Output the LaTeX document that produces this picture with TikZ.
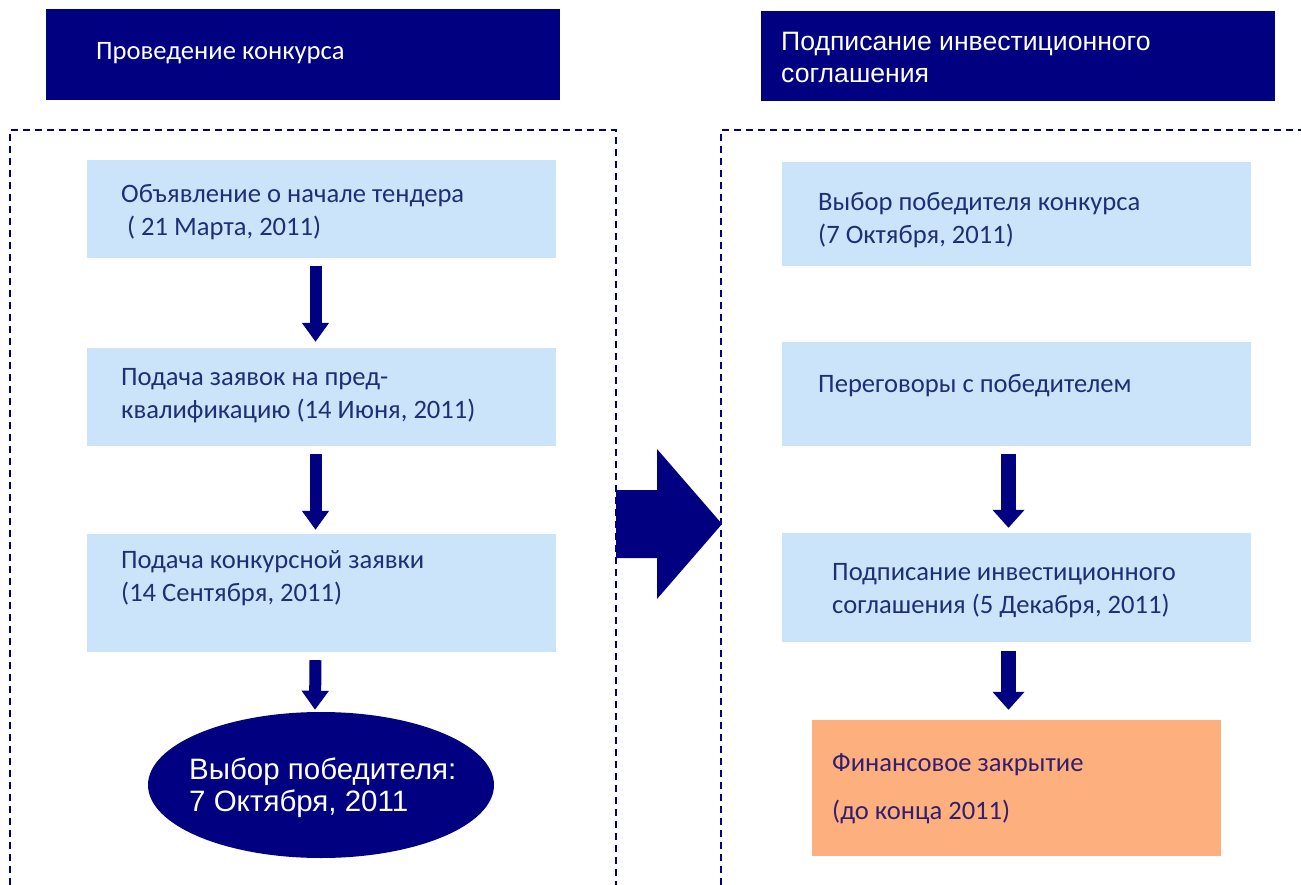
\documentclass[tikz,border=0pt]{standalone}
\usepackage{fontspec}
\setmainfont{Carlito}
\newfontfamily\arialf{Liberation Sans}
\usetikzlibrary{arrows.meta,shapes.geometric,calc}
\definecolor{navy}{RGB}{0,0,128}
\definecolor{lblue}{RGB}{204,228,250}
\definecolor{peach}{RGB}{253,176,126}
\definecolor{btext}{RGB}{28,48,118}
\definecolor{otext}{RGB}{52,30,110}
\tikzset{
  hdr/.style={fill=navy, draw=none, minimum width=514pt, inner sep=0pt},
  stepbox/.style={fill=lblue, draw=none, minimum width=469pt, inner sep=0pt},
  lbl/.style={anchor=west, align=left, inner sep=0pt, text=btext, font=\fontsize{26.6}{33}\selectfont},
  hlbl/.style={anchor=west, align=left, inner sep=0pt, text=white},
  frame/.style={draw=navy, line width=2pt, dash pattern=on 7pt off 5pt},
  larr/.style={draw=navy, line width=12pt, -{Triangle[width=26pt,length=19pt]}},
  rarr/.style={draw=navy, line width=15pt, -{Triangle[width=31pt,length=18pt]}},
}
\begin{document}
\begin{tikzpicture}[x=1pt,y=-1pt]
\useasboundingbox (0,0) rectangle (1301,885);
% headers
\node[hdr, minimum height=91pt] (h1) at (303,54.5) {};
\node[hlbl, font=\fontsize{26.6}{32}\selectfont] (h1t) at (96,53) {Проведение конкурса};
\node[hdr, minimum height=90pt] (h2) at (1018,56) {};
\node[hlbl, font=\arialf\fontsize{26.6}{32}\selectfont] (h2t) at (781,57) {Подписание инвестиционного\\соглашения};
% dashed frames
\draw[frame] (10,885) -- (10,130) -- (616,130) -- (616,885);
\draw[frame] (721,885) -- (721,130) -- (1301,130);
% left column
\node[stepbox, minimum height=98pt] (b1) at (321.5,209) {};
\node[lbl] (b1t) at (121,212.5) {Объявление о начале тендера\\\hspace{0.22em}( 21 Марта, 2011)};
\node[stepbox, minimum height=98pt] (b2) at (321.5,397) {};
\node[lbl] (b2t) at (121,395.5) {Подача заявок на пред-\\квалификацию (14 Июня, 2011)};
\node[stepbox, minimum height=118pt] (b3) at (321.5,593) {};
\node[lbl] (b3t) at (121,578.5) {Подача конкурсной заявки\\(14 Сентября, 2011)};
\node[ellipse, fill=navy, minimum width=346pt, minimum height=146pt, inner sep=0pt] (el) at (321,785) {};
\node[hlbl, font=\arialf\fontsize{29.5}{32}\selectfont] (elt) at (189,788) {Выбор победителя:\\7 Октября, 2011};
\draw[larr] ($(b1.south)+(-6,8)$) -- ($(b2.north)+(-6,-6)$);
\draw[larr] ($(b2.south)+(-6,8)$) -- ($(b3.north)+(-6,-4)$);
\draw[larr] ($(b3.south)+(-6,8)$) -- ($(el.north)+(-6,-2)$);
% big arrow
\coordinate (ba) at (616,490);
\fill[navy] (ba) -- (657,490) -- (657,449) -- (722,524) -- (657,599) -- (657,558) -- (616,558) -- cycle;
% right column
\node[stepbox, minimum height=104pt] (r1) at (1016.5,214) {};
\node[lbl] (r1t) at (818,220.5) {Выбор победителя конкурса\\(7 Октября, 2011)};
\node[stepbox, minimum height=104pt] (r2) at (1016.5,394) {};
\node[lbl] (r2t) at (818,386) {Переговоры с победителем};
\node[stepbox, minimum height=109pt] (r3) at (1016.5,587.5) {};
\node[lbl] (r3t) at (832,590.5) {Подписание инвестиционного\\соглашения (5 Декабря, 2011)};
\node[fill=peach, minimum width=409pt, minimum height=136pt, inner sep=0pt] (fin) at (1016.5,788) {};
\node[lbl, text=otext, font=\fontsize{26.6}{48}\selectfont] (fint) at (832,789) {Финансовое закрытие\\(до конца 2011)};
\draw[rarr] ($(r2.south)+(-8,8)$) -- ($(r3.north)+(-8,-5)$);
\draw[rarr] ($(r3.south)+(-8,9)$) -- ($(fin.north)+(-8,-10)$);
\end{tikzpicture}
\end{document}
